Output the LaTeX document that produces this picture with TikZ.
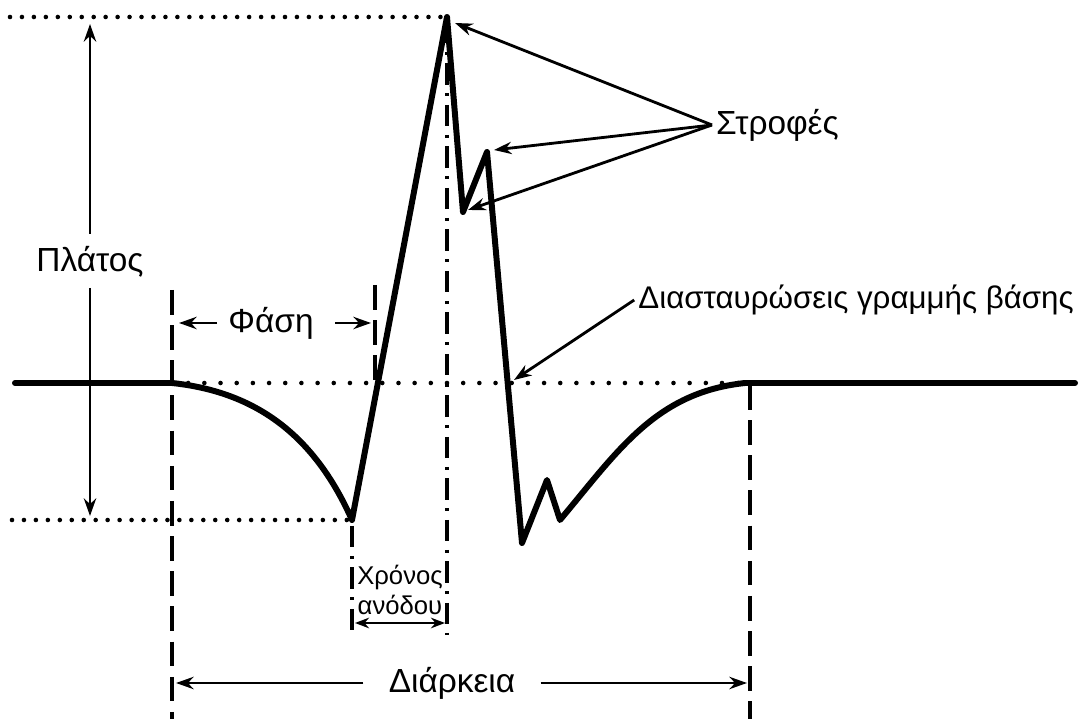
\documentclass[tikz,border=0pt]{standalone}
\usepackage{fontspec}
\setmainfont{Liberation Sans}
\usetikzlibrary{arrows.meta}

\tikzset{
  wave/.style={line width=1.7pt, line join=round, line cap=round},
  pointer/.style={line width=0.8pt, -{Stealth[length=5pt,width=3.5pt]}},
  dimarrow/.style={line width=0.8pt, {Stealth[length=4pt,width=3pt]}-{Stealth[length=4pt,width=3pt]}},
  guide/.style={line width=1.3pt, dash pattern=on 7pt off 3pt},
  guidedot/.style={line width=1.1pt, dash pattern=on 6pt off 2.5pt on 0.8pt off 2.5pt},
  level/.style={line width=1.3pt, line cap=round, dash pattern=on 0pt off 3.4pt},
  baselevel/.style={line width=1.3pt, line cap=round, dash pattern=on 0pt off 4.6pt},
  lbl/.style={font=\fontsize{9.5}{11}\selectfont, inner sep=1pt},
  smalllbl/.style={font=\fontsize{7.3}{8.6}\selectfont, inner sep=0.5pt, align=center},
}

\begin{document}
\begin{tikzpicture}[x=0.01cm, y=-0.01cm]
  \useasboundingbox (0,0) rectangle (1082,719);

  % Waveform points
  \coordinate (L) at (15,383);
  \coordinate (S) at (172,383);
  \coordinate (T) at (352,520);
  \coordinate (P) at (447,17);
  \coordinate (P1) at (463,212);
  \coordinate (P2) at (487,152);
  \coordinate (N) at (522,543);
  \coordinate (N1) at (547,480);
  \coordinate (N2) at (560,520);
  \coordinate (E) at (745,383);
  \coordinate (R) at (1075,383);

  % Levels
  \draw[level] (10,17) -- (P);
  \draw[level] (12,520) -- (T);
  \draw[baselevel] (S) -- (E);

  % Waveform
  \draw[wave] (L) -- (S) to[out=-6, in=114] (T) -- (P) -- (P1) -- (P2) -- (N)
    -- (N1) -- (N2) to[out=50, in=186] (E) -- (R);

  % Guide lines
  \draw[guide] (172,290) -- (172,719);
  \draw[guide] (375,285) -- (375,383);
  \draw[guide] (750,385) -- (750,719);
  \draw[guidedot] (447,22) -- (447,635);
  \draw[guidedot] (352,526) -- (352,635);

  % Amplitude
  \node[lbl] (amp) at (90,262) {Πλάτος};
  \coordinate (ampTop) at (90,24);
  \coordinate (ampBot) at (90,516);
  \draw[pointer] (90,234) -- (ampTop);
  \draw[pointer] (90,288) -- (ampBot);

  % Phase
  \node[lbl] (phase) at (271,323) {Φάση};
  \coordinate (phaseL) at (179,323);
  \coordinate (phaseR) at (371,323);
  \draw[pointer] (217,323) -- (phaseL);
  \draw[pointer] (335,323) -- (phaseR);

  % Rise time
  \node[smalllbl] (rise) at (400,590) {Χρόνος\\ανόδου};
  \coordinate (riseL) at (355,623);
  \coordinate (riseR) at (445,623);
  \draw[dimarrow] (riseL) -- (riseR);

  % Duration
  \node[lbl] (dur) at (452,683) {Διάρκεια};
  \coordinate (durL) at (176,683);
  \coordinate (durR) at (747,683);
  \draw[pointer] ([xshift=-6pt]dur.west) -- (durL);
  \draw[pointer] ([xshift=6pt]dur.east) -- (durR);

  % Turns
  \node[lbl, anchor=west] (turns) at (712,125) {Στροφές};
  \coordinate (turnA) at (455,23);
  \coordinate (turnB) at (494,150);
  \coordinate (turnC) at (468,210);
  \draw[pointer] (turns.west) -- (turnA);
  \draw[pointer] (turns.west) -- (turnB);
  \draw[pointer] (turns.west) -- (turnC);

  % Baseline crossings
  \node[lbl, font=\fontsize{8.9}{10}\selectfont, anchor=east] (cross) at (1078,300)
    {Διασταυρώσεις γραμμής βάσης};
  \coordinate (crossPt) at (514,380);
  \draw[pointer] (cross.west) -- (crossPt);

\end{tikzpicture}
\end{document}
